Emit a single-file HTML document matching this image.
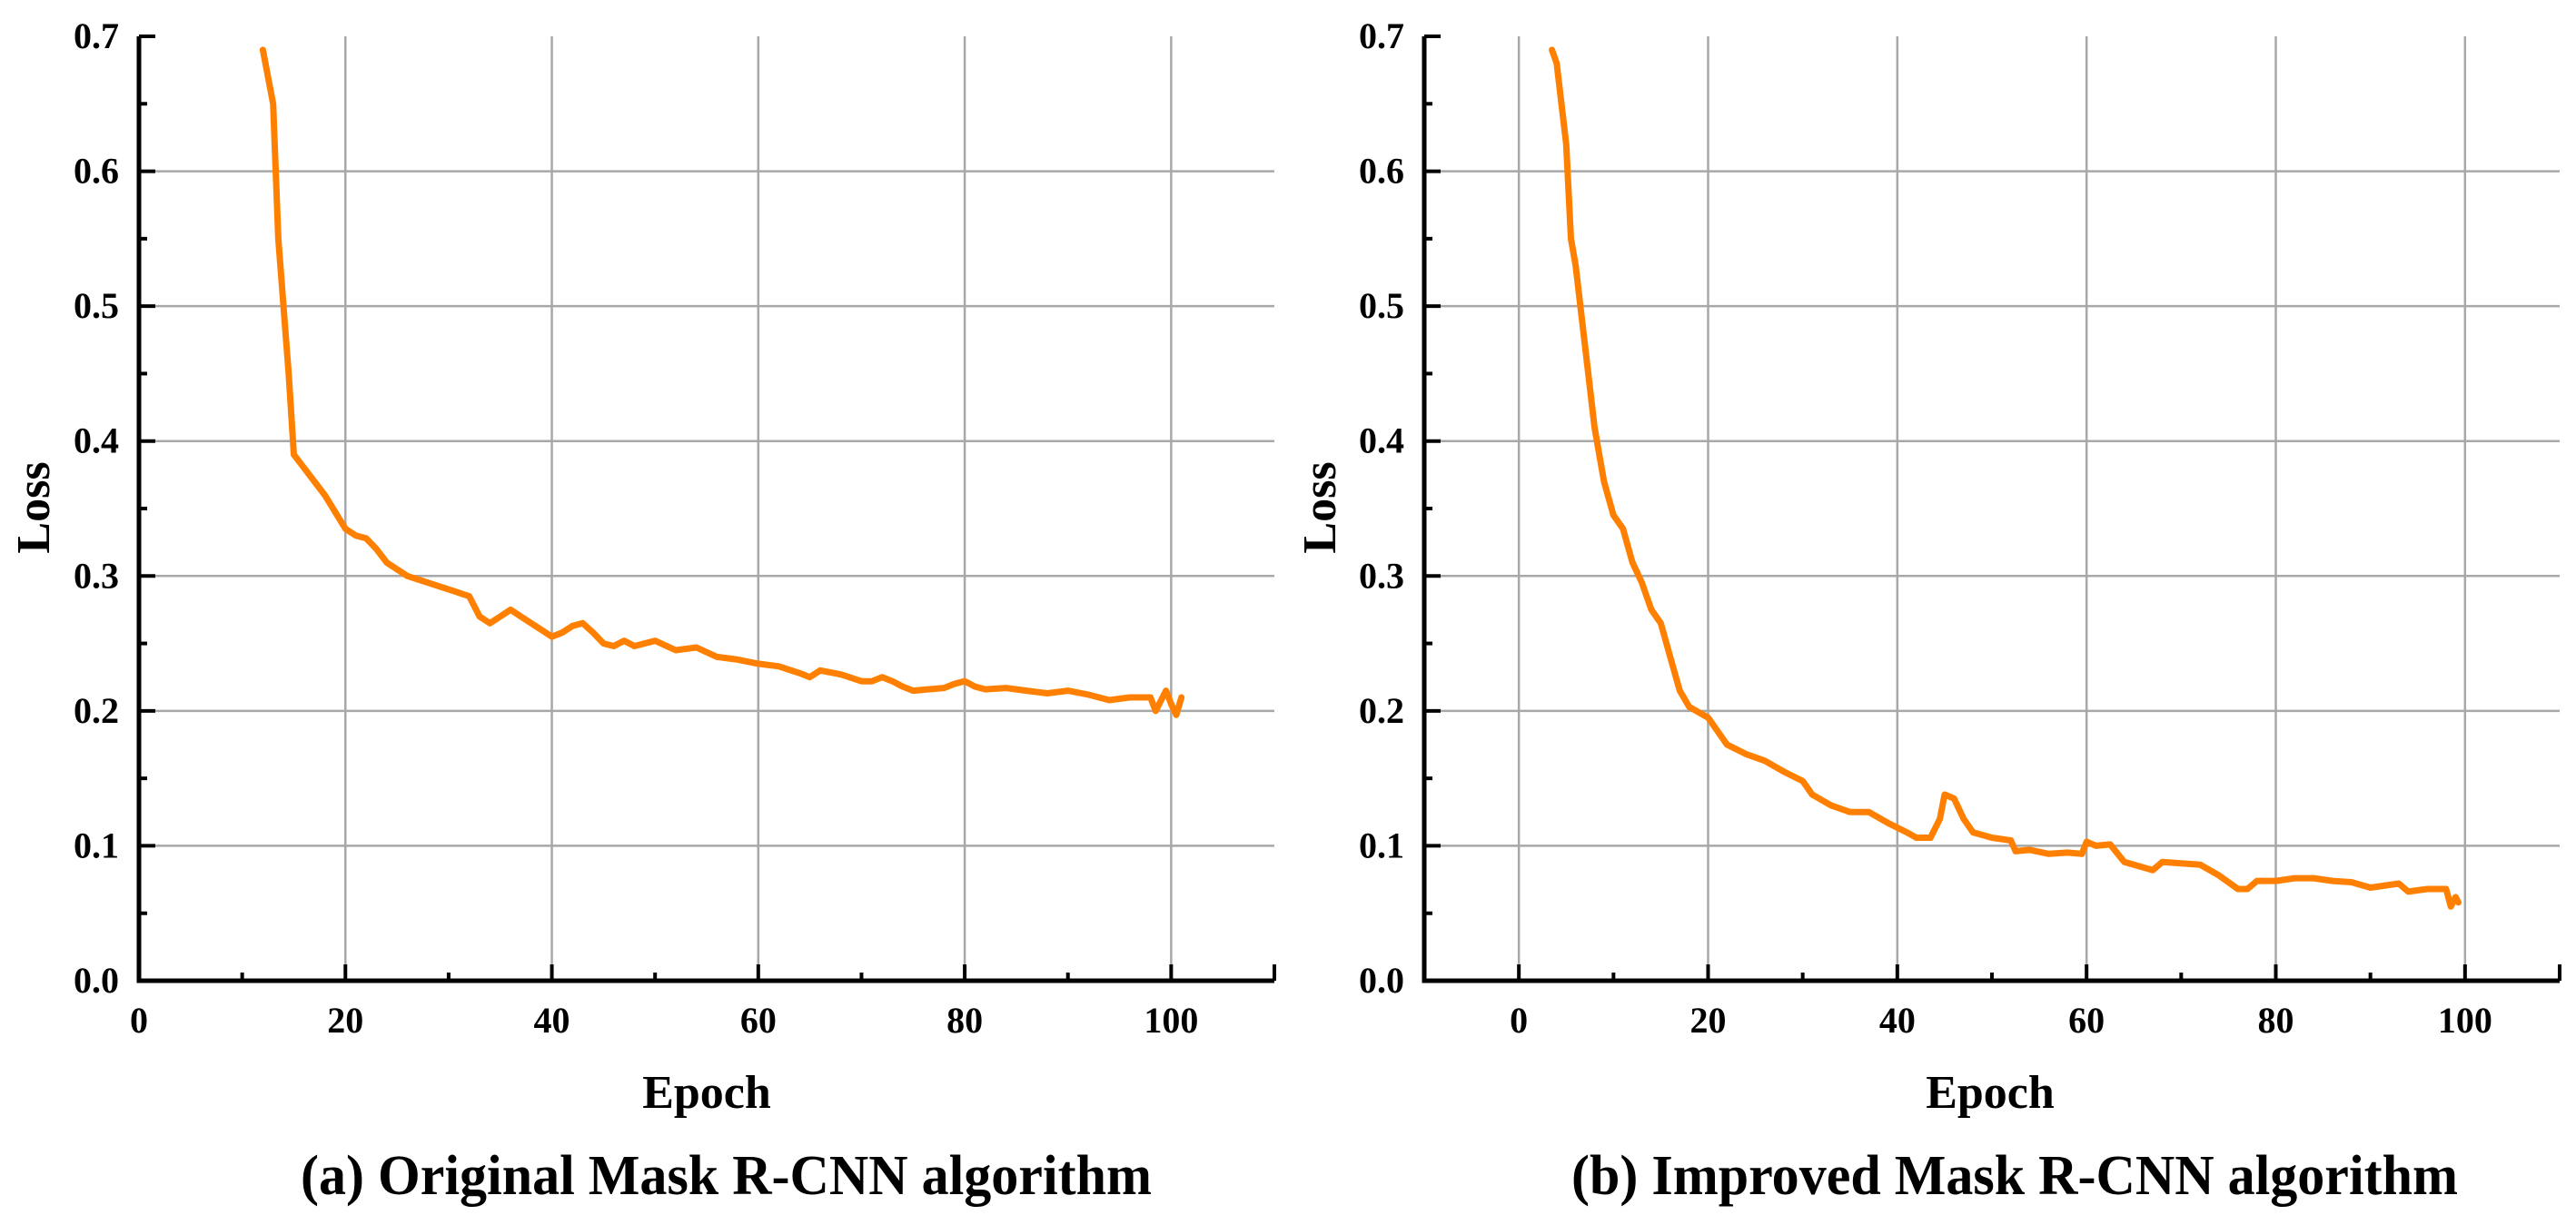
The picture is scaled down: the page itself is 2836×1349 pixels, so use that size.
<!DOCTYPE html>
<html><head><meta charset="utf-8"><style>
html,body{margin:0;padding:0;background:#fff;}
svg{display:block;}
text{font-family:"Liberation Serif",serif;font-weight:bold;fill:#000;}
</style></head><body>
<svg id="fig" width="2836" height="1349" viewBox="0 0 2836 1349" xmlns="http://www.w3.org/2000/svg"></svg>
<script>
const xA=[12,13,13.5,14,14.5,15,16,18,20,21,22,23,24,25,26,28,30,32,33,34,35,36,37,38,39,40,41,42,43,44,45,46,47,48,50,52,54,56,58,60,62,64,65,66,68,70,71,72,73,74,75,78,79,80,81,82,84,86,88,90,92,94,96,98,98.5,99.5,100,100.5,101];
const yA=[0.69,0.65,0.55,0.5,0.45,0.39,0.38,0.36,0.335,0.33,0.328,0.32,0.31,0.305,0.3,0.295,0.29,0.285,0.27,0.265,0.27,0.275,0.27,0.265,0.26,0.255,0.258,0.263,0.265,0.258,0.25,0.248,0.252,0.248,0.252,0.245,0.247,0.24,0.238,0.235,0.233,0.228,0.225,0.23,0.227,0.222,0.222,0.225,0.222,0.218,0.215,0.217,0.22,0.222,0.218,0.216,0.217,0.215,0.213,0.215,0.212,0.208,0.21,0.21,0.2,0.215,0.205,0.197,0.21];
const xB=[3.5,4,5,5.5,6,7,8,9,10,11,12,13,14,15,16,17,18,20,22,24,26,28,30,31,33,35,37,39,41,42,43.5,44.5,45,46,47,48,50,52,52.5,54,56,58,59.5,60,61,62.5,64,66,67,68,70,72,74,76,77,78,80,82,84,86,88,90,92,93,94,96,98,98.5,99,99.3];
const yB=[0.69,0.68,0.62,0.55,0.53,0.47,0.41,0.37,0.345,0.335,0.31,0.295,0.275,0.265,0.24,0.215,0.203,0.195,0.175,0.168,0.163,0.155,0.148,0.138,0.13,0.125,0.125,0.117,0.11,0.106,0.106,0.12,0.138,0.135,0.12,0.11,0.106,0.104,0.096,0.097,0.094,0.095,0.094,0.103,0.1,0.101,0.088,0.084,0.082,0.088,0.087,0.086,0.078,0.068,0.068,0.074,0.074,0.076,0.076,0.074,0.073,0.069,0.071,0.072,0.066,0.068,0.068,0.055,0.062,0.058];
const yTicks=[0,0.1,0.2,0.3,0.4,0.5,0.6,0.7];
const xTicksA=[0,20,40,60,80,100];
const xTicksB=[0,20,40,60,80,100];

const svg=document.getElementById('fig');
const NS='http://www.w3.org/2000/svg';
function mk(tag,attrs,parent,txt){const e=document.createElementNS(NS,tag);for(const k in attrs)e.setAttribute(k,attrs[k]);if(txt!==undefined)e.textContent=txt;parent.appendChild(e);return e;}

function panel(id,L,R,xmin,xmax,xTicks,xs,ys,caption,capX,capW,epochX,lossX){
  const top=40,bot=1080;
  const sx=v=>L+(v-xmin)/(xmax-xmin)*(R-L);
  const sy=v=>bot-v/0.7*(bot-top);
  const g=mk('g',{},svg);
  
  
  yTicks.forEach(t=>{ if(t>0&&t<0.7){const l=mk('line',{x1:L,x2:R,y1:sy(t),y2:sy(t),stroke:'#a8a8a8','stroke-width':2.5},g);
    }});
  xTicks.forEach(t=>{ if(sx(t)>L+3){const l=mk('line',{x1:sx(t),x2:sx(t),y1:top,y2:bot,stroke:'#a8a8a8','stroke-width':2.5},g);
    }});
  const d=xs.map((x,i)=>(i?'L':'M')+sx(x).toFixed(1)+' '+sy(ys[i]).toFixed(1)).join(' ');
  const p=mk('path',{d:d,fill:'none',stroke:'#ff8000','stroke-width':7,'stroke-linejoin':'round','stroke-linecap':'round'},g);
  
  const ax=mk('path',{d:`M${L} ${top} L${L} ${bot} L${R} ${bot}`,fill:'none',stroke:'#000','stroke-width':5},g);
  
  for(let v=0;v<=0.7001;v+=0.05){const maj=Math.abs(v*10-Math.round(v*10))<1e-6;
    mk('line',{x1:L,x2:L+(maj?18:9),y1:sy(v),y2:sy(v),stroke:'#000','stroke-width':4},g);}
  yTicks.forEach(t=>{const tx=mk('text',{x:L-22,y:sy(t)+13,'font-size':40,'text-anchor':'end'},g,t.toFixed(1));
    });
  for(let v=Math.ceil(xmin/10)*10;v<=xmax;v+=10){const maj=v%20===0;
    mk('line',{x1:sx(v),x2:sx(v),y1:bot,y2:bot-(maj?18:9),stroke:'#000','stroke-width':4},g);}
  mk('line',{x1:R,x2:R,y1:bot,y2:bot-18,stroke:'#000','stroke-width':4},g);
  xTicks.forEach(t=>{const tx=mk('text',{x:sx(t),y:1137,'font-size':40,'text-anchor':'middle'},g,String(t));
    });
  const et=mk('text',{x:epochX,y:1220,'font-size':52,'text-anchor':'middle'},g,'Epoch');
  
  const lt=mk('text',{x:0,y:0,'font-size':52,'text-anchor':'middle',transform:`translate(${lossX},559) rotate(-90)`},g,'Loss');
  
  const ct=mk('text',{x:capX,y:1315,'font-size':62,textLength:capW,lengthAdjust:'spacingAndGlyphs'},g,caption);
  
}
panel('original',153,1403,0,110,xTicksA,xA,yA,'(a) Original Mask R-CNN algorithm',331,937,778,54);
panel('improved',1568,2818,-10,110,xTicksB,xB,yB,'(b) Improved Mask R-CNN algorithm',1730,976,2191,1470);
</script>
</body></html>
